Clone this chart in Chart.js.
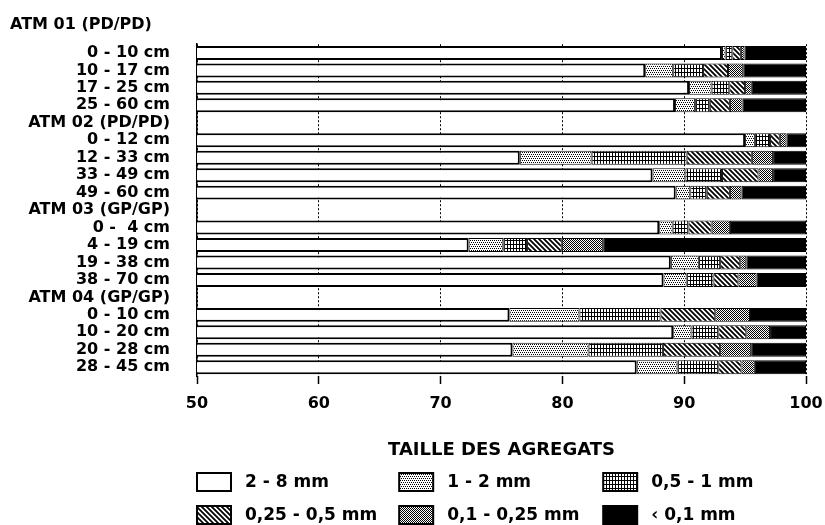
<!DOCTYPE html>
<html>
<head>
<meta charset="utf-8">
<script src="https://cdn.jsdelivr.net/npm/chart.js@4"></script>
<style>
    html, body { margin: 0; padding: 0; background: #fff; }
    #wrap { width: 825px; height: 525px; }
</style>
</head>
<body>
<div id="wrap"><canvas id="chart" width="825" height="525"></canvas></div>
<script>
// 見出し（最初のプロファイル名はタイトルとして左上に置く）
const firstProfile = 'ATM 01 (PD/PD)';
const legendTitle = 'TAILLE DES AGREGATS';

// 深さ（見出し行はバーなし）
const depthLabels = [
    '0 - 10 cm', '10 - 17 cm', '17 - 25 cm', '25 - 60 cm',
    'ATM 02 (PD/PD)',
    '0 - 12 cm', '12 - 33 cm', '33 - 49 cm', '49 - 60 cm',
    'ATM 03 (GP/GP)',
    '0 -  4 cm', '4 - 19 cm', '19 - 38 cm', '38 - 70 cm',
    'ATM 04 (GP/GP)',
    '0 - 10 cm', '10 - 20 cm', '20 - 28 cm', '28 - 45 cm'
];

// 凡例ラベル
const classLabels = ['2 - 8 mm', '1 - 2 mm', '0,5 - 1 mm', '0,25 - 0,5 mm', '0,1 - 0,25 mm', '\u2039 0,1 mm'];

// 各粒径クラスの割合 (%)
const size2to8   = [93.1, 86.8, 90.4, 89.25, null, 95.0, 76.5, 87.4, 89.3, null, 87.95, 72.3, 88.9, 88.3, null, 75.65, 89.1, 75.9, 86.1];
const size1to2   = [0.3, 2.3, 1.85, 1.65, null, 0.8, 5.9, 2.7, 1.2, null, 1.1, 2.85, 2.3, 1.9, null, 5.75, 1.5, 6.25, 3.35];
const size05to1  = [0.55, 2.45, 1.45, 1.2, null, 1.25, 7.8, 3.0, 1.35, null, 1.3, 1.95, 1.75, 2.2, null, 6.65, 2.2, 6.1, 3.35];
const size025to05 = [0.7, 2.05, 1.3, 1.65, null, 0.8, 5.35, 3.0, 1.9, null, 1.9, 2.85, 1.65, 2.05, null, 4.5, 2.3, 4.7, 1.9];
const size01to025 = [0.3, 1.25, 0.55, 1.05, null, 0.55, 1.75, 1.2, 0.95, null, 1.5, 3.4, 0.5, 1.5, null, 2.85, 1.95, 2.55, 1.1];
const sizeLt01   = [5.05, 5.15, 4.45, 5.2, null, 1.6, 2.7, 2.7, 5.3, null, 6.25, 16.65, 4.9, 4.05, null, 4.6, 2.95, 4.5, 4.2];

// x軸
const xMin = 50;
const xMax = 100;
const xStep = 10;

const FONT = '"DejaVu Sans", "Liberation Sans", sans-serif';

/**
 * 小さなタイルからハッチングパターンを作る
 */
function makePattern(kind) {
    const c = document.createElement('canvas');
    const sizes = { dotsLight: [4, 4], grid: [3, 4], hatch: [5, 5], dotsDark: [2, 2] };
    const [w, h] = sizes[kind];
    c.width = w; c.height = h;
    const g = c.getContext('2d');
    g.fillStyle = '#fff';
    g.fillRect(0, 0, w, h);
    g.fillStyle = '#000';
    g.strokeStyle = '#000';
    if (kind === 'dotsLight') {
        g.fillRect(0, 0, 1, 1); g.fillRect(2, 0, 1, 1);
        g.fillRect(1, 2, 1, 1); g.fillRect(3, 2, 1, 1);
    } else if (kind === 'grid') {
        g.fillRect(0, 0, 1, h);
        g.fillRect(0, 0, w, 1);
    } else if (kind === 'hatch') {
        g.lineWidth = 1.8;
        g.beginPath();
        g.moveTo(-1, -1); g.lineTo(w + 1, h + 1);
        g.moveTo(-1, h - 1); g.lineTo(1, h + 1);
        g.moveTo(w - 1, -1); g.lineTo(w + 1, 1);
        g.stroke();
    } else if (kind === 'dotsDark') {
        g.fillRect(0, 0, 1, 1);
        g.fillRect(1, 1, 1, 1);
    }
    return g.createPattern(c, 'repeat');
}

const fills = ['#ffffff', makePattern('dotsLight'), makePattern('grid'), makePattern('hatch'), makePattern('dotsDark'), '#000000'];
const series = [size2to8, size1to2, size05to1, size025to05, size01to025, sizeLt01];

const datasets = series.map((data, i) => ({
    label: classLabels[i],
    data: data,
    backgroundColor: fills[i],
    borderColor: '#000',
    borderWidth: i === 0 ? 2 : 1,
    borderSkipped: false,
    barPercentage: 0.8,
    categoryPercentage: 1.0
}));

// 3列の凡例を描くプラグイン
const gridLegend = {
    id: 'gridLegend',
    afterDraw(chart) {
        const ctx = chart.ctx;
        const area = chart.chartArea;
        const width = area.right - area.left;
        const cols = [0, 0.332, 0.667];
        const rows = [106, 139];
        ctx.save();
        ctx.fillStyle = '#000';
        ctx.textBaseline = 'middle';
        ctx.textAlign = 'center';
        ctx.font = 'bold 18px ' + FONT;
        ctx.fillText(legendTitle, (area.left + area.right) / 2, area.bottom + 74);
        ctx.textAlign = 'left';
        ctx.font = 'bold 17px ' + FONT;
        chart.data.datasets.forEach((ds, i) => {
            const x = area.left + cols[i % 3] * width;
            const y = area.bottom + rows[Math.floor(i / 3)];
            ctx.fillStyle = ds.backgroundColor;
            ctx.fillRect(x, y - 9, 34, 18);
            ctx.lineWidth = 2;
            ctx.strokeStyle = '#000';
            ctx.strokeRect(x, y - 9, 34, 18);
            ctx.fillStyle = '#000';
            ctx.fillText(ds.label, x + 48, y + 1);
        });
        ctx.restore();
    }
};

new Chart(document.getElementById('chart'), {
    type: 'bar',
    data: { labels: depthLabels, datasets: datasets },
    plugins: [gridLegend],
    options: {
        indexAxis: 'y',
        responsive: false,
        animation: false,
        layout: { padding: { left: 10, right: 19, top: 0, bottom: 109 } },
        plugins: {
            legend: { display: false },
            tooltip: { enabled: false },
            title: {
                display: true, text: firstProfile, align: 'start', color: '#000',
                font: { family: FONT, size: 16, weight: 'bold' },
                padding: { top: 15, bottom: 10 }
            }
        },
        scales: {
            x: {
                stacked: true, min: xMin, max: xMax,
                afterFit(scale) { scale.height = 40; scale.paddingLeft = 0; scale.paddingRight = 0; },
                ticks: { stepSize: xStep, color: '#000', padding: 10, font: { family: FONT, size: 16, weight: 'bold' } },
                grid: { color: '#000', lineWidth: 1, tickLength: 8, tickWidth: 1.5, tickColor: '#000', tickBorderDash: [] },
                border: { display: false, dash: [2, 2] }
            },
            y: {
                stacked: true,
                afterFit(scale) { scale.width = 187; scale.paddingTop = 0; scale.paddingBottom = 0; },
                ticks: { color: '#000', padding: 27, autoSkip: false, font: { family: FONT, size: 16, weight: 'bold' } },
                grid: { display: false, drawTicks: false },
                border: { display: true, color: '#000', width: 1.5 }
            }
        }
    }
});
</script>
</body>
</html>
